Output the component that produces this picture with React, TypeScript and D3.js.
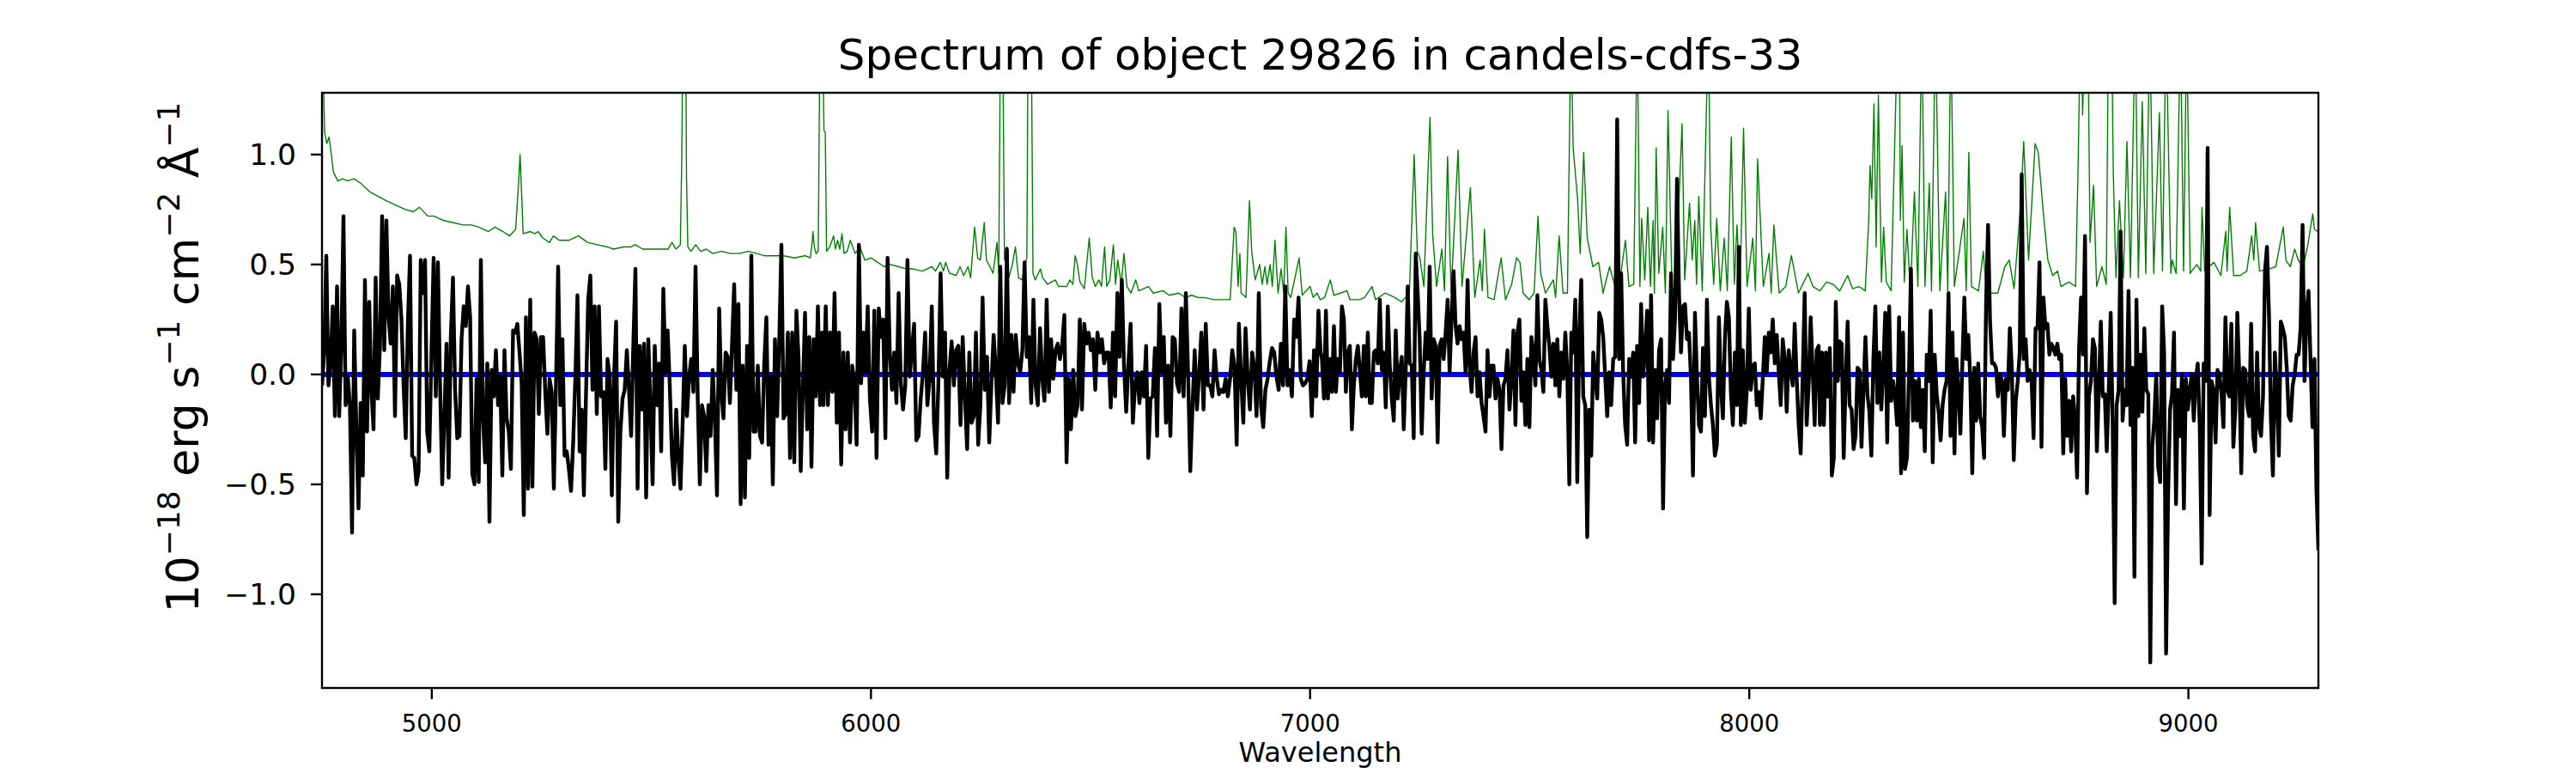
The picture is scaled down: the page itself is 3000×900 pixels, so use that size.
import React from 'react';
import * as d3 from 'd3';

const TITLE = 'Spectrum of object 29826 in candels-cdfs-33';
const X_LABEL = 'Wavelength';
const X_DOMAIN = [4750, 9296];
const Y_DOMAIN = [-1.426, 1.281];
const X_TICKS = [5000, 6000, 7000, 8000, 9000];
const Y_TICKS = [-1.0, -0.5, 0.0, 0.5, 1.0];

const FLUX_A = [
  -0.05, 0.10, 0.54, -0.05, 0.05, 0.31, -0.19, 0.40, -0.19, 0.13, 0.72, -0.14, -0.01, -0.14, -0.72, 0.20,
  -0.25, -0.61, -0.13, -0.46, 0.43, -0.26, 0.33, -0.07, -0.25, 0.44, -0.11, 0.13, 0.72, 0.11, 0.70, 0.26,
  0.14, 0.40, -0.19, 0.45, 0.41, 0.25, -0.05, -0.29, 0.23, 0.54, -0.37, -0.38, -0.50, -0.44, 0.52, 0.37,
  0.52, -0.26, -0.35, 0.10, 0.53, -0.10, 0.51, -0.05, -0.50, -0.19, 0.14, -0.47, 0.17, 0.44, -0.07, -0.29,
  -0.28, 0.16, 0.31, 0.22, 0.40, 0.26, -0.45, -0.50, -0.02, -0.49, 0.52, -0.20, -0.40, 0.05, -0.67, 0.02,
  -0.10, 0.11, -0.14, -0.01, -0.46, 0.11, -0.20, -0.26, -0.43, 0.20, 0.19, 0.23, 0.10, -0.04, -0.64, 0.26,
  -0.52, 0.34, -0.51, 0.19, 0.16, -0.18, 0.17, 0.17, -0.08, -0.27, -0.02, -0.08, -0.52, -0.04, 0.49, -0.14,
  0.16, -0.37, -0.35, -0.43, -0.53, -0.31, -0.02, 0.36, -0.35, -0.16, -0.55, -0.08, 0.34, 0.45, -0.07, 0.31,
  -0.18, 0.31, -0.10, -0.08, -0.43, 0.07, -0.01, -0.55, -0.02, 0.24, -0.67, -0.26, -0.11, -0.07, 0.11, -0.07,
  -0.28, 0.13, 0.48, -0.52, 0.13, -0.16, 0.14, -0.56, 0.16, -0.15, -0.50, 0.13, -0.14, 0.05, -0.35, 0.39,
  0.01, 0.20, -0.05, -0.37, -0.50, -0.16, -0.38, -0.52, -0.22, 0.13, -0.19, -0.01, 0.07, -0.08, 0.49, -0.10,
  -0.50, -0.14, -0.19, -0.44, -0.14, -0.28, 0.02, -0.20, -0.55, 0.30, -0.08, -0.20, 0.10, 0.08, -0.13, 0.14,
  0.41, -0.07, 0.32, -0.59, 0.04, -0.56, 0.13, -0.38, 0.54, -0.26, -0.26, 0.04, -0.28, -0.31, 0.05, 0.26,
  -0.32, -0.01, -0.50, 0.16, -0.19, 0.16, 0.59, -0.20, -0.18, 0.19, -0.38, 0.19, -0.40, 0.29, 0.07, -0.44,
  -0.07, 0.28, -0.25, 0.17, -0.42, 0.16, -0.10, 0.31, -0.14, 0.19,
];

const FLUX_B = [
  -0.14, 0.31, -0.14, 0.19, -0.08, 0.37, -0.22, 0.19, -0.41, 0.10, -0.25, 0.10, -0.31, 0.04, -0.04, -0.32,
  0.59, -0.04, 0.19, 0.01, 0.31, -0.11, -0.26, 0.29, -0.38, 0.30, 0.17, 0.25, -0.29, 0.53, 0.10, -0.07,
  0.10, -0.13, 0.37, -0.04, -0.16, -0.05, 0.52, -0.01, 0.11, 0.23, -0.30, -0.28, -0.11, 0.01, 0.19, -0.14,
  -0.02, 0.31, -0.22, -0.36, -0.04, 0.46, -0.01, 0.19, -0.47, 0.02, 0.15, -0.05, 0.11, 0.13, -0.23, 0.17,
  -0.10, -0.34, 0.10, -0.22, -0.19, 0.19, -0.32, -0.14, 0.35, -0.07, 0.08, -0.31, -0.04, 0.18, 0.01, -0.22,
  0.49, -0.13, -0.05, 0.57, -0.13, 0.18, -0.08, 0.18, 0.05, 0.01, 0.11, 0.51, 0.08, 0.17, -0.13, 0.34,
  -0.05, -0.14, 0.21, -0.02, -0.12, 0.34, -0.08, 0.16, -0.02, 0.11, 0.14, 0.07, 0.13, 0.27, -0.40, -0.02,
  -0.25, 0.02, -0.19, -0.14, 0.25, -0.16, 0.23, 0.14, 0.19, 0.11, 0.16, -0.07, 0.19, 0.10, 0.16, 0.05,
  0.10, 0.10, -0.15, 0.19, -0.10, 0.37, 0.08, 0.43, 0.04, -0.17, 0.05, 0.23, -0.22, -0.05, 0.01, -0.13,
  0.01, -0.10, 0.13, -0.38, -0.11, -0.10, 0.12, -0.28, 0.32, 0.01, 0.17, -0.22, 0.04, -0.28, 0.17, 0.16,
  -0.04, -0.08, 0.30, -0.10, 0.37, 0.01, -0.44, -0.15, 0.11, -0.16, 0.00, 0.19, -0.16, 0.23, -0.05, -0.05,
  -0.10, 0.11, -0.02, -0.09, -0.07, -0.08, -0.02, -0.10, -0.02, 0.11, 0.04, -0.32, 0.23, -0.02, -0.22, 0.21,
  -0.02, -0.16, 0.10, 0.03, -0.19, 0.37, -0.14, -0.24, -0.07, -0.02, 0.06, 0.12, 0.10, -0.01, -0.07, 0.14,
  -0.05, 0.40, -0.05, 0.02, -0.10, 0.25, 0.17, 0.35, -0.02, -0.05, -0.04, -0.02, 0.06, -0.19, 0.11, -0.10,
  0.29, 0.10,
];

const FLUX_C = [
  0.07, -0.11, 0.29, -0.11, 0.07, -0.08, 0.22, -0.08, 0.07, 0.01, 0.31, 0.25, -0.08, 0.10, 0.13, -0.25,
  -0.05, 0.07, 0.13, 0.02, -0.10, 0.13, -0.10, 0.19, -0.13, -0.13, 0.10, 0.11, 0.05, 0.34, 0.02, 0.10,
  -0.15, 0.31, 0.04, -0.11, -0.21, 0.20, -0.11, 0.01, 0.08, -0.25, 0.02, 0.40, 0.05, 0.04, -0.29, 0.55,
  0.37, 0.16, -0.27, 0.01, 0.19, 0.07, 0.49, -0.11, 0.16, 0.13, -0.31, 0.13, 0.16, 0.07, 0.19, 0.34,
  0.01, 0.26, 0.47, 0.22, 0.14, 0.22, 0.16, 0.19, 0.01, 0.43, 0.04, -0.08, 0.10, 0.17, -0.10, 0.01,
  -0.13, -0.19, -0.26, 0.11, -0.10, 0.04, 0.04, -0.11, -0.02, -0.07, -0.34, -0.05, -0.02, 0.11, -0.16, -0.02,
  0.20, -0.23, 0.19, 0.25, -0.12, 0.01, -0.23, 0.07, -0.24, 0.17, 0.10, -0.05, 0.36, 0.07, 0.02, -0.08,
  0.34, 0.22, 0.13, -0.01, 0.14, -0.05, 0.16, -0.10, 0.10, -0.02, 0.19, 0.01, -0.50, 0.19, 0.10, 0.34,
  -0.49, 0.19, 0.43, -0.10, -0.14, -0.74, -0.16, -0.37, 0.10, -0.01, -0.11, 0.28, 0.25, 0.17, -0.01, -0.19,
  0.01, -0.14, 0.07, 0.08, 1.16, 0.07, 0.46, 0.01, -0.23, -0.32, 0.07, -0.01, 0.10, -0.31, 0.13, -0.13,
  0.32, -0.01, 0.11, 0.29, -0.30, 0.36, -0.31, 0.02, -0.20, 0.11, 0.16, -0.61, -0.05, 0.02, -0.13, 0.46,
  0.07, 0.25, 0.89, 0.37, 0.10, 0.31, 0.32, 0.16, 0.19, -0.02, -0.46, 0.28, -0.01, -0.23, -0.26, 0.12,
  -0.19, 0.34, -0.01, -0.14, -0.23, -0.37, -0.32, 0.26, -0.05, -0.20, 0.16, 0.33, 0.26, -0.08, -0.23, 0.10,
  -0.14, 0.58, -0.23, 0.11, -0.22, -0.07, 0.30, -0.07, 0.04, 0.05, -0.14, -0.08, -0.20, -0.02, 0.17, 0.01,
  0.19, 0.10, 0.25, 0.05, 0.18, 0.01, -0.14, 0.16, 0.07, -0.17, 0.11, 0.02, -0.05, 0.23, -0.02, -0.23,
  -0.36, -0.01, 0.37, -0.23, -0.05, 0.26, 0.02, -0.23, 0.11, 0.13,
];

const FLUX_D = [
  -0.23, 0.10, -0.23, 0.10, -0.10, 0.12, -0.46, -0.38, 0.33, -0.03, 0.15, 0.14, -0.38, -0.03, 0.24, -0.14,
  -0.16, -0.34, -0.28, 0.03, 0.02, -0.33, -0.07, 0.17, -0.09, -0.17, -0.37, 0.07, 0.31, -0.13, 0.10, -0.16,
  0.03, 0.28, -0.31, 0.31, -0.12, -0.03, -0.10, -0.23, 0.26, -0.45, 0.19, -0.43, -0.38, 0.00, 0.48, -0.21,
  -0.03, -0.21, -0.02, -0.24, -0.07, -0.35, 0.09, -0.03, 0.29, -0.40, 0.09, -0.09, -0.17, -0.30, -0.14, -0.07,
  -0.03, 0.37, -0.28, 0.19, -0.36, 0.07, -0.07, -0.27, 0.05, 0.35, 0.07, 0.18, -0.02, -0.45, 0.03, -0.21,
  0.05, -0.19, -0.24, -0.38, 0.33, 0.68, 0.24, 0.05, 0.05, 0.03, -0.10, 0.00, -0.03, -0.28, -0.02, -0.07,
  0.21, 0.03, -0.39, -0.12, -0.03, 0.10, 0.91, 0.07, 0.16, -0.03, 0.02, -0.03, -0.29, 0.21, 0.21, 0.51,
  -0.33, 0.35, 0.21, 0.23, 0.09, 0.14, 0.12, 0.09, 0.14, 0.07, 0.09, -0.36, -0.02, -0.28, -0.12, -0.35,
  -0.10, -0.21, -0.47, 0.12, 0.35, 0.09, 0.63, -0.54, -0.10, -0.03, 0.16, 0.12, -0.35, -0.07, 0.24, -0.10,
  -0.09, -0.35, -0.07, 0.28, -0.23, -1.04, -0.14, -0.07, 0.65, -0.21, -0.07, -0.14, 0.38, -0.23, 0.03, -0.92,
  0.34, -0.19, 0.09, -0.17, 0.21, -0.07, -0.09, -1.31, -0.33, -0.21, 0.00, -0.42, -0.49, 0.31, 0.10, -1.27,
  -0.56, -0.16, -0.09, 0.19, -0.59, -0.07, -0.28, 0.00, -0.61, -0.02, -0.16, -0.07, 0.00, -0.21, -0.02, 0.05,
  -0.23, -0.86, 0.05, -0.03, 1.03, -0.64, -0.03, -0.07, -0.31, 0.02, 0.00, -0.09, -0.24, 0.26, -0.07, -0.10,
  0.23, -0.33, -0.16, 0.28, 0.00, -0.45, 0.03, 0.02, -0.14, -0.19, 0.23, -0.28, -0.35, 0.10, -0.24, -0.28,
  -0.10, 0.47, 0.58, 0.28, -0.21, -0.46, 0.10, -0.09, -0.37, 0.24, 0.21, 0.17, 0.03, -0.19, -0.21, -0.05,
  0.00, 0.09, 0.09, 0.21, 0.68, -0.03, 0.28, 0.38, 0.07, -0.24, 0.07, -0.52, -0.80,
];

const FLUX_SEGMENTS = [
  { from: 4750, to: 5889, flux: FLUX_A },
  { from: 5892, to: 7024, flux: FLUX_B },
  { from: 7027, to: 8158, flux: FLUX_C },
  { from: 8161, to: 9296, flux: FLUX_D },
];

// model fit (blue), flat at zero
const MODEL = [
  [4750, 0],
  [9296, 0],
];

// noise / sky spectrum (green) as [wavelength, value]; values above the frame are clipped
const SKY = [
  [4750, 1.6], [4753, 1.35], [4756, 1.1], [4761, 1.05], [4766, 1.08], [4770, 1.02], [4776, 0.92], [4786, 0.88],
  [4797, 0.89], [4808, 0.88], [4823, 0.89], [4838, 0.87], [4859, 0.83], [4878, 0.81], [4896, 0.79], [4918, 0.77],
  [4940, 0.75], [4958, 0.74], [4972, 0.76], [4991, 0.72], [5005, 0.72], [5027, 0.7], [5049, 0.69], [5071, 0.68],
  [5089, 0.68], [5107, 0.67], [5129, 0.65], [5144, 0.67], [5162, 0.65], [5177, 0.63], [5191, 0.66], [5197, 0.85],
  [5201, 1.0], [5205, 0.8], [5208, 0.64], [5224, 0.65], [5235, 0.64], [5242, 0.65], [5253, 0.62], [5268, 0.6],
  [5277, 0.63], [5290, 0.61], [5312, 0.61], [5334, 0.63], [5355, 0.6], [5377, 0.59], [5399, 0.58], [5414, 0.57],
  [5436, 0.58], [5454, 0.58], [5463, 0.59], [5480, 0.57], [5516, 0.57], [5538, 0.57], [5547, 0.6], [5556, 0.57],
  [5566, 0.59], [5569, 0.95], [5572, 1.6], [5578, 1.6], [5580, 0.9], [5583, 0.58], [5590, 0.56], [5601, 0.59],
  [5612, 0.56], [5625, 0.57], [5640, 0.55], [5660, 0.56], [5680, 0.55], [5700, 0.55], [5720, 0.56], [5740, 0.55],
  [5757, 0.54], [5780, 0.54], [5800, 0.54], [5826, 0.53], [5850, 0.54], [5862, 0.53], [5866, 0.6], [5868, 0.65],
  [5871, 0.58], [5875, 0.55], [5880, 0.56], [5884, 1.6], [5890, 1.6], [5893, 1.11], [5896, 1.1], [5899, 0.56],
  [5906, 0.58], [5915, 0.63], [5919, 0.57], [5924, 0.61], [5929, 0.57], [5934, 0.64], [5939, 0.55], [5946, 0.56],
  [5953, 0.61], [5964, 0.55], [5975, 0.58], [5986, 0.52], [6001, 0.53], [6015, 0.51], [6030, 0.49], [6044, 0.5],
  [6063, 0.49], [6081, 0.48], [6096, 0.48], [6117, 0.47], [6139, 0.49], [6147, 0.47], [6158, 0.51], [6165, 0.47],
  [6170, 0.51], [6179, 0.46], [6194, 0.45], [6203, 0.49], [6211, 0.45], [6221, 0.49], [6227, 0.44], [6236, 0.67],
  [6243, 0.53], [6249, 0.52], [6258, 0.69], [6263, 0.52], [6271, 0.49], [6278, 0.46], [6287, 0.6], [6291, 0.46],
  [6295, 1.6], [6300, 1.6], [6304, 0.52], [6309, 0.58], [6314, 0.44], [6322, 0.5], [6329, 0.58], [6336, 0.44],
  [6344, 0.43], [6355, 0.53], [6358, 1.6], [6365, 1.6], [6369, 0.46], [6374, 0.43], [6386, 0.48], [6391, 0.44],
  [6402, 0.41], [6420, 0.43], [6427, 0.4], [6446, 0.4], [6453, 0.43], [6460, 0.41], [6465, 0.54], [6469, 0.51],
  [6476, 0.42], [6486, 0.39], [6497, 0.62], [6504, 0.44], [6511, 0.4], [6519, 0.43], [6525, 0.4], [6532, 0.58],
  [6537, 0.4], [6544, 0.43], [6552, 0.59], [6557, 0.41], [6562, 0.52], [6570, 0.41], [6576, 0.55], [6583, 0.4],
  [6592, 0.37], [6603, 0.43], [6610, 0.38], [6632, 0.4], [6643, 0.37], [6665, 0.38], [6679, 0.36], [6701, 0.37],
  [6716, 0.35], [6730, 0.36], [6745, 0.35], [6759, 0.35], [6781, 0.34], [6818, 0.34], [6827, 0.67], [6831, 0.65],
  [6836, 0.4], [6840, 0.55], [6843, 0.37], [6854, 0.35], [6862, 0.79], [6867, 0.56], [6875, 0.43], [6885, 0.5],
  [6891, 0.41], [6897, 0.49], [6902, 0.41], [6909, 0.5], [6914, 0.4], [6920, 0.61], [6927, 0.37], [6934, 0.48],
  [6940, 0.37], [6945, 0.67], [6950, 0.37], [6956, 0.35], [6975, 0.53], [6982, 0.36], [7000, 0.4], [7007, 0.35],
  [7016, 0.37], [7023, 0.34], [7033, 0.35], [7046, 0.43], [7054, 0.36], [7069, 0.37], [7084, 0.38], [7091, 0.34],
  [7113, 0.34], [7124, 0.35], [7141, 0.4], [7149, 0.34], [7171, 0.37], [7193, 0.35], [7208, 0.33], [7226, 0.37],
  [7237, 1.0], [7244, 0.56], [7250, 0.53], [7259, 0.4], [7273, 1.17], [7279, 0.64], [7288, 0.4], [7300, 0.57],
  [7306, 0.38], [7313, 0.99], [7321, 0.37], [7337, 1.02], [7346, 0.4], [7365, 0.85], [7375, 0.35], [7387, 0.52],
  [7392, 0.38], [7397, 0.66], [7405, 0.35], [7419, 0.34], [7427, 0.44], [7435, 0.53], [7445, 0.34], [7459, 0.41],
  [7470, 0.53], [7478, 0.51], [7485, 0.37], [7499, 0.34], [7510, 0.37], [7519, 0.72], [7525, 0.46], [7536, 0.37],
  [7554, 0.43], [7559, 0.35], [7567, 0.63], [7576, 0.37], [7586, 0.37], [7594, 1.6], [7599, 1.03], [7609, 0.8],
  [7615, 0.55], [7623, 1.01], [7631, 0.62], [7644, 0.49], [7657, 0.51], [7667, 0.37], [7682, 0.49], [7693, 0.41],
  [7700, 0.35], [7718, 0.61], [7726, 0.4], [7737, 0.41], [7745, 1.6], [7751, 0.4], [7755, 0.71], [7762, 0.43],
  [7769, 0.76], [7775, 0.4], [7781, 0.7], [7784, 0.37], [7788, 1.03], [7794, 0.46], [7803, 0.67], [7809, 0.37],
  [7815, 1.2], [7824, 0.4], [7829, 0.37], [7837, 0.65], [7847, 1.14], [7853, 0.43], [7864, 0.78], [7870, 0.52],
  [7876, 0.7], [7880, 0.41], [7885, 0.81], [7893, 0.38], [7907, 1.6], [7912, 0.68], [7919, 0.41], [7926, 0.71],
  [7934, 0.38], [7943, 0.62], [7950, 0.38], [7959, 1.08], [7966, 0.41], [7972, 0.68], [7979, 0.39], [7987, 1.12],
  [7995, 0.4], [8008, 0.62], [8014, 0.38], [8019, 0.98], [8032, 0.4], [8045, 0.55], [8050, 0.37], [8056, 0.68],
  [8068, 0.37], [8083, 0.4], [8096, 0.54], [8112, 0.37], [8134, 0.46], [8145, 0.4], [8161, 0.38], [8176, 0.42],
  [8191, 0.41], [8206, 0.38], [8224, 0.45], [8235, 0.39], [8250, 0.4], [8264, 0.38], [8272, 0.7], [8275, 0.95],
  [8279, 0.8], [8284, 1.23], [8289, 0.58], [8294, 1.27], [8301, 0.42], [8306, 0.67], [8312, 0.42], [8323, 0.38],
  [8338, 1.6], [8342, 1.6], [8344, 0.7], [8348, 1.04], [8353, 0.42], [8359, 0.66], [8367, 0.38], [8376, 0.83],
  [8384, 0.4], [8393, 1.6], [8400, 0.4], [8410, 0.87], [8415, 0.38], [8424, 1.6], [8434, 0.38], [8447, 0.83],
  [8452, 0.38], [8459, 1.6], [8467, 0.4], [8489, 0.71], [8494, 0.38], [8500, 1.01], [8506, 0.4], [8522, 0.38],
  [8533, 0.56], [8540, 0.37], [8566, 0.37], [8582, 0.49], [8592, 0.52], [8603, 0.39], [8618, 0.77], [8625, 1.06],
  [8636, 0.52], [8651, 1.05], [8658, 1.01], [8669, 0.75], [8680, 0.52], [8691, 0.45], [8702, 0.47], [8710, 0.4],
  [8728, 0.42], [8743, 0.4], [8749, 0.96], [8754, 1.6], [8757, 1.6], [8759, 1.18], [8765, 1.6], [8771, 1.6],
  [8776, 0.6], [8784, 0.86], [8791, 0.4], [8803, 0.49], [8813, 0.41], [8818, 1.6], [8825, 1.6], [8829, 0.91],
  [8835, 0.44], [8843, 0.79], [8852, 0.44], [8860, 1.06], [8868, 0.44], [8879, 1.6], [8886, 0.44], [8895, 1.24],
  [8903, 0.46], [8912, 1.6], [8921, 0.46], [8934, 1.19], [8941, 0.47], [8949, 1.6], [8960, 0.46], [8963, 0.52],
  [8972, 0.46], [8982, 1.6], [8989, 0.47], [8996, 1.6], [9004, 0.46], [9019, 0.5], [9028, 0.47], [9031, 0.76],
  [9037, 0.47], [9058, 0.51], [9074, 0.45], [9085, 0.65], [9088, 0.47], [9094, 0.76], [9103, 0.45], [9118, 0.45],
  [9133, 0.47], [9144, 0.63], [9149, 0.52], [9153, 0.69], [9162, 0.47], [9184, 0.48], [9199, 0.49], [9216, 0.67],
  [9222, 0.52], [9232, 0.49], [9242, 0.57], [9250, 0.52], [9261, 0.49], [9272, 0.59], [9283, 0.73], [9287, 0.66],
  [9294, 0.65],
];

const FONT = "'DejaVu Sans', sans-serif";

export default function App() {
  const width = 3000;
  const height = 900;
  const left = 375;
  const right = 2700;
  const top = 108;
  const bottom = 801;

  const x = d3.scaleLinear().domain(X_DOMAIN).range([left, right]);
  const y = d3.scaleLinear().domain(Y_DOMAIN).range([bottom, top]);

  const fluxPoints = FLUX_SEGMENTS.flatMap(seg =>
    seg.flux.map((v, i) => [seg.from + (i * (seg.to - seg.from)) / (seg.flux.length - 1), v])
  );

  const line = d3
    .line<number[]>()
    .x(d => x(d[0]))
    .y(d => y(d[1]));

  const fmtY = d3.format('.1f');

  // superscript shift for the mathtext-like y label
  const sup = 22;
  const supSize = 36;

  return (
    <div style={{ position: 'absolute', left: 0, top: 0 }}>
      <svg width={width} height={height} style={{ display: 'block', background: '#fff' }}>
        <defs>
          <clipPath id="plot-area">
            <rect x={left} y={top} width={right - left} height={bottom - top} />
          </clipPath>
        </defs>
        <rect x={0} y={0} width={width} height={height} fill="#fff" />

        <g clipPath="url(#plot-area)" fill="none">
          <path d={line(SKY) || ''} stroke="#008000" strokeWidth={1.4} strokeLinejoin="round" />
          <path d={line(MODEL) || ''} stroke="#0000ff" strokeWidth={6} />
          <path d={line(fluxPoints) || ''} stroke="#000" strokeWidth={4.4} strokeLinejoin="round" />
        </g>

        <rect
          x={left}
          y={top}
          width={right - left}
          height={bottom - top}
          fill="none"
          stroke="#000"
          strokeWidth={2.4}
        />

        {/* x axis */}
        {X_TICKS.map(t => (
          <g key={`x${t}`}>
            <line x1={x(t)} x2={x(t)} y1={bottom} y2={bottom + 13} stroke="#000" strokeWidth={2.4} />
            <text
              x={x(t)}
              y={852}
              textAnchor="middle"
              fontFamily={FONT}
              fontSize={27.5}
              fill="#000"
            >
              {t}
            </text>
          </g>
        ))}
        <text x={(left + right) / 2} y={887} textAnchor="middle" fontFamily={FONT} fontSize={32} fill="#000">
          {X_LABEL}
        </text>

        {/* y axis */}
        {Y_TICKS.map(t => (
          <g key={`y${t}`}>
            <line x1={left - 13} x2={left} y1={y(t)} y2={y(t)} stroke="#000" strokeWidth={2.4} />
            <text
              x={345}
              y={y(t) + 12.5}
              textAnchor="end"
              fontFamily={FONT}
              fontSize={34.5}
              fill="#000"
            >
              {fmtY(t)}
            </text>
          </g>
        ))}
        <text
          transform={`translate(231, 416) rotate(-90)`}
          textAnchor="middle"
          fontFamily={FONT}
          fontSize={52}
          fill="#000"
        >
          <tspan>10</tspan>
          <tspan dy={-sup} fontSize={supSize}>−18</tspan>
          <tspan dy={sup}> erg s</tspan>
          <tspan dy={-sup} fontSize={supSize}>−1</tspan>
          <tspan dy={sup}> cm</tspan>
          <tspan dy={-sup} fontSize={supSize}>−2</tspan>
          <tspan dy={sup}> Å</tspan>
          <tspan dy={-sup} fontSize={supSize}>−1</tspan>
        </text>

        <text x={(left + right) / 2} y={81} textAnchor="middle" fontFamily={FONT} fontSize={50} fill="#000">
          {TITLE}
        </text>
      </svg>
    </div>
  );
}
